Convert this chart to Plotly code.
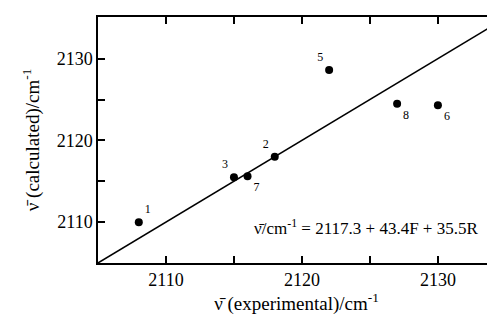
import plotly.graph_objects as go

# Data
labels = ["1", "2", "3", "5", "6", "7", "8"]
nu_exp = [2108.0, 2118.0, 2115.0, 2122.0, 2130.0, 2116.0, 2127.0]
nu_calc = [2110.0, 2118.0, 2115.5, 2128.6, 2124.3, 2115.6, 2124.5]
label_pos = ["top right", "top left", "top left", "top left", "bottom right", "bottom right", "bottom right"]

line_x = [2105, 2135]
line_y = [2105, 2135]

x_ticks = [2110, 2120, 2130]
y_ticks = [2110, 2120, 2130]

FONT = "Liberation Serif"

fig = go.Figure()
fig.add_trace(go.Scatter(x=line_x, y=line_y, mode="lines",
                         line=dict(color="black", width=1.5),
                         hoverinfo="skip", showlegend=False))
fig.add_trace(go.Scatter(x=nu_exp, y=nu_calc, mode="markers+text",
                         marker=dict(color="black", size=8),
                         text=labels, textposition=label_pos,
                         textfont=dict(family=FONT, size=12, color="black"),
                         showlegend=False, cliponaxis=False))

def axis_common(mirror):
    return dict(
        showline=True, linecolor="black", linewidth=1.5,
        ticks="inside", ticklen=7, tickwidth=1.5, tickcolor="black",
        mirror=mirror, showgrid=False, zeroline=False,
        tickfont=dict(family=FONT, size=18, color="black"),
        minor=dict(dtick=5, ticks="inside", ticklen=7, tickwidth=1.5,
                   tickcolor="black", showgrid=False),
    )

fig.update_layout(
    width=495, height=322,
    margin=dict(l=90, r=8, t=7, b=67),
    paper_bgcolor="white", plot_bgcolor="white",
    font=dict(family=FONT, color="black"),
    xaxis=dict(range=[2105, 2134.2], tickvals=x_ticks, **axis_common("allticks"),
               title=dict(text="ν̄ (experimental)/cm<sup>-1</sup>",
                          font=dict(family=FONT, size=19, color="black"), standoff=5)),
    yaxis=dict(range=[2105, 2135.1], tickvals=y_ticks, **axis_common(False),
               title=dict(text="ν̄ (calculated)/cm<sup>-1</sup>",
                          font=dict(family=FONT, size=19, color="black"), standoff=12)),
    annotations=[dict(text="ν̄/cm<sup>-1</sup> = 2117.3 + 43.4F + 35.5R",
                      x=0.962, y=0.145, xref="paper", yref="paper",
                      xanchor="right", yanchor="middle", showarrow=False,
                      font=dict(family=FONT, size=17, color="black"))],
)

fig.write_html("out.html")
